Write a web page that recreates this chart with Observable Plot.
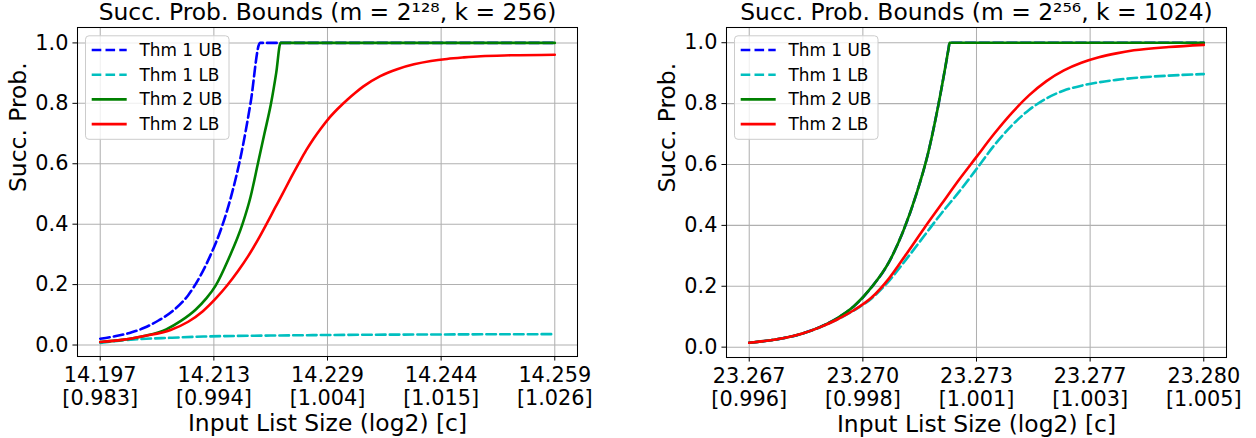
<!DOCTYPE html>
<html><head><meta charset="utf-8">
<script src="https://cdn.jsdelivr.net/npm/d3@7"></script>
<script src="https://cdn.jsdelivr.net/npm/@observablehq/plot@0.6"></script>
<style>
body{margin:0;background:#fff;}
#wrap{display:flex;width:1256px;height:438px;}
#wrap svg{display:block;}
</style></head><body><div id="wrap"></div>
<script>
// ---------- shared ----------
const seriesNames = ["Thm 1 UB", "Thm 1 LB", "Thm 2 UB", "Thm 2 LB"];
const seriesColors = ["#0000ff", "#00bfbf", "#008000", "#ff0000"];
const seriesDashed = [true, true, false, false];
const yTicks = [0, 0.2, 0.4, 0.6, 0.8, 1.0];

// ---------- left panel (m = 2^128, k = 256) ----------
const leftTitle = "Succ. Prob. Bounds (m = 2¹²⁸, k = 256)";
const leftTicks = [14.197, 14.2125, 14.228, 14.2435, 14.259];
const leftTickLog2 = ["14.197", "14.213", "14.229", "14.244", "14.259"];
const leftTickC = ["[0.983]", "[0.994]", "[1.004]", "[1.015]", "[1.026]"];

const leftThm1UB_x = [14.197, 14.199, 14.201, 14.203, 14.205, 14.207, 14.209, 14.2105, 14.212, 14.2135, 14.215, 14.2163, 14.2175, 14.2188, 14.259];
const leftThm1UB_y = [0.021, 0.029, 0.040, 0.057, 0.082, 0.115, 0.165, 0.222, 0.295, 0.385, 0.505, 0.64, 0.80, 1.0, 1.0];

const leftThm1LB_x = [14.197, 14.199, 14.202, 14.2066, 14.2111, 14.2229, 14.2435, 14.259];
const leftThm1LB_y = [0.007, 0.013, 0.019, 0.024, 0.028, 0.032, 0.035, 0.036];

const leftThm2UB_x = [14.197, 14.200, 14.203, 14.206, 14.208, 14.210, 14.2115, 14.2127, 14.2145, 14.2164, 14.2175, 14.2185, 14.2194, 14.2203, 14.221, 14.2216, 14.259];
const leftThm2UB_y = [0.010, 0.017, 0.030, 0.052, 0.08, 0.117, 0.155, 0.195, 0.285, 0.40, 0.49, 0.6, 0.7, 0.8, 0.9, 1.0, 1.0];

const leftThm2LB_x = [14.197, 14.200, 14.203, 14.2066, 14.209, 14.211, 14.2128, 14.2143, 14.2158, 14.2172, 14.2185, 14.2196, 14.2208, 14.2219, 14.223, 14.2241, 14.2251, 14.2261, 14.2271, 14.2281, 14.2294, 14.2307, 14.2318, 14.2329, 14.2352, 14.2375, 14.2398, 14.2421, 14.2443, 14.2466, 14.2489, 14.253, 14.259];
const leftThm2LB_y = [0.010, 0.017, 0.030, 0.050, 0.077, 0.112, 0.155, 0.197, 0.245, 0.295, 0.348, 0.397, 0.452, 0.502, 0.553, 0.602, 0.645, 0.683, 0.717, 0.748, 0.782, 0.812, 0.835, 0.856, 0.89, 0.913, 0.929, 0.94, 0.947, 0.952, 0.956, 0.959, 0.961];

// ---------- right panel (m = 2^256, k = 1024) ----------
const rightTitle = "Succ. Prob. Bounds (m = 2²⁵⁶, k = 1024)";
const rightTicks = [23.267, 23.27025, 23.2735, 23.27675, 23.280];
const rightTickLog2 = ["23.267", "23.270", "23.273", "23.277", "23.280"];
const rightTickC = ["[0.996]", "[0.998]", "[1.001]", "[1.003]", "[1.005]"];

const rightThm1UB_x = [23.267, 23.2675, 23.268, 23.2685, 23.269, 23.2695, 23.270, 23.2705, 23.271, 23.2714, 23.2718, 23.2721, 23.2724, 23.2727, 23.27273, 23.280];
const rightThm1UB_y = [0.0144, 0.021, 0.030, 0.044, 0.065, 0.094, 0.135, 0.197, 0.28, 0.38, 0.51, 0.63, 0.79, 0.98, 1.0, 1.0];

const rightThm1LB_x = [23.267, 23.2675, 23.268, 23.2685, 23.269, 23.2695, 23.270, 23.2705, 23.271, 23.2715, 23.272, 23.2725, 23.273, 23.2735, 23.274, 23.2745, 23.275, 23.2755, 23.276, 23.2765, 23.277, 23.2775, 23.278, 23.279, 23.280];
const rightThm1LB_y = [0.0144, 0.021, 0.030, 0.044, 0.064, 0.090, 0.121, 0.160, 0.218, 0.29, 0.365, 0.44, 0.51, 0.585, 0.662, 0.727, 0.779, 0.817, 0.843, 0.859, 0.870, 0.878, 0.884, 0.892, 0.897];

const rightThm2UB_x = [23.267, 23.2675, 23.268, 23.2685, 23.269, 23.2695, 23.270, 23.2705, 23.271, 23.2714, 23.2718, 23.2721, 23.2724, 23.2727, 23.27273, 23.280];
const rightThm2UB_y = [0.0144, 0.021, 0.030, 0.044, 0.065, 0.094, 0.135, 0.197, 0.28, 0.38, 0.51, 0.63, 0.79, 0.98, 1.0, 1.0];

const rightThm2LB_x = [23.267, 23.2675, 23.268, 23.2685, 23.269, 23.2695, 23.270, 23.2705, 23.271, 23.2715, 23.272, 23.2725, 23.273, 23.2735, 23.274, 23.2745, 23.275, 23.2755, 23.276, 23.2765, 23.277, 23.2775, 23.278, 23.279, 23.280];
const rightThm2LB_y = [0.0144, 0.021, 0.030, 0.044, 0.064, 0.090, 0.122, 0.163, 0.226, 0.307, 0.39, 0.47, 0.55, 0.625, 0.70, 0.768, 0.827, 0.874, 0.909, 0.934, 0.952, 0.965, 0.975, 0.986, 0.993];

// ---------- builder ----------
const F = "DejaVu Sans";
function rows(xs, ys) { return xs.map((x, i) => ({x, y: ys[i]})); }

function panel(cfg) {
  const lw = 2.6;
  const lineMarks = cfg.series.map((s, i) =>
    Plot.line(s, {
      x: "x", y: "y", stroke: seriesColors[i], strokeWidth: lw,
      strokeDasharray: seriesDashed[i] ? "9.6,4.2" : null,
      curve: "monotone-x", strokeLinejoin: "round"
    })
  );
  const xPad = (cfg.ticks[cfg.ticks.length - 1] - cfg.ticks[0]) * 0.05;
  const svg = Plot.plot({
    width: 628, height: 438,
    marginLeft: cfg.ml, marginRight: cfg.mr, marginTop: 27, marginBottom: cfg.mb,
    style: {fontFamily: F, fontSize: "20.8px", color: "black", background: "white", overflow: "visible"},
    x: {domain: [cfg.ticks[0] - xPad, cfg.ticks[cfg.ticks.length - 1] + xPad]},
    y: {domain: cfg.ydomain},
    marks: [
      Plot.gridX(cfg.ticks, {stroke: "#b0b0b0", strokeOpacity: 1, strokeWidth: 1.04}),
      Plot.gridY(yTicks, {stroke: "#b0b0b0", strokeOpacity: 1, strokeWidth: 1.04}),
      ...lineMarks,
      Plot.frame({stroke: "black", strokeWidth: 1.04}),
      Plot.axisX(cfg.ticks, {tickSize: 4.55, tickPadding: 4.55, fontSize: 20.8, label: null, lineHeight: 1.12,
        tickFormat: d => { const i = cfg.ticks.indexOf(d); return cfg.tickTop[i] + "\n" + cfg.tickBottom[i]; }}),
      Plot.axisY(yTicks, {tickSize: 4.55, tickPadding: 4.55, fontSize: 20.8, label: null,
        tickFormat: d => d.toFixed(1)}),
      Plot.text([cfg.title], {frameAnchor: "top", dy: -7.5, lineAnchor: "bottom", fontSize: 23.4, text: d => d}),
      Plot.text(["Input List Size (log2) [c]"], {frameAnchor: "bottom", dy: 74.5, lineAnchor: "bottom", fontSize: 23.4, text: d => d}),
      Plot.text(["Succ. Prob."], {frameAnchor: "left", dx: -52, rotate: -90, lineAnchor: "bottom", fontSize: 23.4, text: d => d})
    ]
  });

  // legend (upper left)
  const g = d3.select(svg).append("g").attr("font-family", F).attr("font-size", 16.9).attr("text-anchor", "start");
  const x0 = cfg.ml, y0 = 27;
  g.append("rect").attr("x", x0 + 8.5).attr("y", y0 + 8.8).attr("width", 143.5).attr("height", 103.5)
    .attr("rx", 3.5).attr("fill", "white").attr("fill-opacity", 0.8).attr("stroke", "#cccccc").attr("stroke-width", 1);
  seriesNames.forEach((name, i) => {
    const yy = y0 + 23 + i * 24.7;
    g.append("line").attr("x1", x0 + 14.7).attr("x2", x0 + 49.7).attr("y1", yy).attr("y2", yy)
      .attr("stroke", seriesColors[i]).attr("stroke-width", lw)
      .attr("stroke-dasharray", seriesDashed[i] ? "9.6,4.2" : null);
    g.append("text").attr("x", x0 + 62.5).attr("y", yy).attr("dy", "0.35em")
      .attr("text-anchor", "start").attr("fill", "black").text(name);
  });
  return svg;
}

const wrap = document.getElementById("wrap");
wrap.appendChild(panel({
  title: leftTitle, ticks: leftTicks, tickTop: leftTickLog2, tickBottom: leftTickC,
  ml: 77, mr: 51, mb: 82, ydomain: [-0.038, 1.051],
  series: [rows(leftThm1UB_x, leftThm1UB_y), rows(leftThm1LB_x, leftThm1LB_y),
           rows(leftThm2UB_x, leftThm2UB_y), rows(leftThm2LB_x, leftThm2LB_y)]
}));
wrap.appendChild(panel({
  title: rightTitle, ticks: rightTicks, tickTop: rightTickLog2, tickBottom: rightTickC,
  ml: 98, mr: 30, mb: 81, ydomain: [-0.034, 1.050],
  series: [rows(rightThm1UB_x, rightThm1UB_y), rows(rightThm1LB_x, rightThm1LB_y),
           rows(rightThm2UB_x, rightThm2UB_y), rows(rightThm2LB_x, rightThm2LB_y)]
}));
</script></body></html>
